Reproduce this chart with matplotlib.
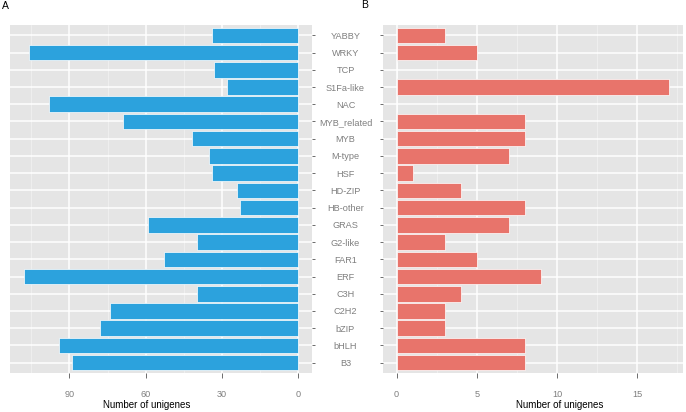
import numpy as np
import matplotlib
matplotlib.use("Agg")
import matplotlib.pyplot as plt

# categories listed bottom -> top
families = ["B3", "bHLH", "bZIP", "C2H2", "C3H", "ERF", "FAR1", "G2-like", "GRAS",
            "HB-other", "HD-ZIP", "HSF", "M-type", "MYB", "MYB_related", "NAC",
            "S1Fa-like", "TCP", "WRKY", "YABBY"]
countA = [89, 94, 78, 74, 40, 108, 53, 40, 59, 23, 24, 34, 35, 42, 69, 98, 28, 33, 106, 34]
countB = [8, 8, 3, 3, 4, 9, 5, 3, 7, 8, 4, 1, 7, 8, 8, 0, 17, 0, 5, 3]
ticksA = [0, 30, 60, 90]
ticksB = [0, 5, 10, 15]

plt.rcParams['font.family'] = ['Liberation Sans', 'DejaVu Sans']

W, H = 686, 412
fig = plt.figure(figsize=(W / 100, H / 100), dpi=100)

def px_axes(x0, x1, y0, y1):
    return fig.add_axes([x0 / W, 1 - y1 / H, (x1 - x0) / W, (y1 - y0) / H])

axA = px_axes(10, 312, 25, 373)
axB = px_axes(383, 683, 25, 373)

y = np.arange(len(families))
blue = "#2CA2DD"
red = "#E8746B"
grey = "#7F7F7F"

def style(ax, major, minor, xlim):
    ax.set_facecolor("#E5E5E5")
    for s in ax.spines.values():
        s.set_visible(False)
    ax.set_xlim(*xlim)
    ax.set_ylim(-0.6, len(families) - 0.4)
    ax.set_xticks(major)
    ax.set_xticks(minor, minor=True)
    ax.set_yticks(y)
    ax.grid(True, which="major", color="white", lw=1.1)
    ax.grid(True, which="minor", axis="x", color="#F2F2F2", lw=0.5)
    ax.set_axisbelow(True)
    ax.tick_params(axis="x", which="major", length=3.5, width=0.6, color="#555555",
                   labelsize=6.6, labelcolor=grey, pad=9)
    ax.tick_params(axis="x", which="minor", length=0)
    ax.tick_params(axis="y", length=2.5, width=0.6, color="#555555",
                   labelsize=6.6, labelcolor=grey)

axA.barh(y, countA, height=0.9, color=blue, edgecolor="white", linewidth=0.5)
style(axA, ticksA, [15, 45, 75, 105], (113.4, -5.4))
axA.yaxis.tick_right()
axA.set_yticklabels([])

axB.barh(y, countB, height=0.9, color=red, edgecolor="white", linewidth=0.5)
style(axB, ticksB, [2.5, 7.5, 12.5, 17.5], (-0.85, 17.85))
axB.set_yticklabels(families, ha="center")
axB.tick_params(axis="y", pad=24.5)

fig.text(147 / W, 1 - 405 / H, "Number of unigenes", ha="center", va="center",
         fontsize=7, color="black")
fig.text(560 / W, 1 - 405 / H, "Number of unigenes", ha="center", va="center",
         fontsize=7, color="black")
fig.text(5 / W, 1 - 6 / H, "A", ha="center", va="center", fontsize=7.5)
fig.text(365 / W, 1 - 5 / H, "B", ha="center", va="center", fontsize=7.5)

fig.savefig("out.png", dpi=100)
